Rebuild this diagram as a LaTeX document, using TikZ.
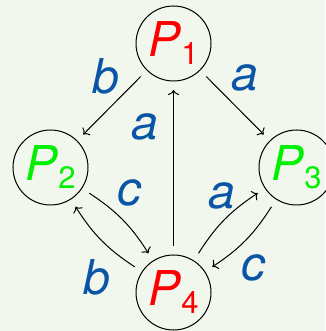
\documentclass[tikz,border=0pt]{standalone}
\usepackage{fontspec}
\setmainfont{TeX Gyre Heros}
\usetikzlibrary{arrows.meta,positioning}
\definecolor{bgtint}{RGB}{242,247,237}
\definecolor{lblblue}{RGB}{10,85,165}
\definecolor{procgreen}{RGB}{0,240,0}
\newcommand{\procname}[1]{\textit{P}\lower8pt\hbox{\fontsize{31}{31}\selectfont #1}}
\tikzset{
  proc/.style={draw=black, line width=1pt, circle, minimum size=75pt, inner sep=0pt,
    outer sep=9pt, font=\fontsize{48}{56}\selectfont},
  lbl/.style={text=lblblue, inner sep=0pt, font=\fontsize{48}{56}\selectfont\itshape},
  arr/.style={-{To[length=5pt,width=11pt]}, line width=1pt}
}
\begin{document}
\begin{tikzpicture}[x=1pt, y=1pt]
  \useasboundingbox (0,0) rectangle (325,331);
  \fill[bgtint] (0,0) rectangle (325,331);

  \node[proc, text=red] (p1) at (173.5,287.5) {\procname{1}};
  \node[proc, text=procgreen] (p2) at (50.5,163.5) {\procname{2}};
  \node[proc, text=procgreen] (p3) at (296.5,163.5) {\procname{3}};
  \node[proc, text=red] (p4) at (173.5,38.5) {\procname{4}};

  \draw[arr] (p1) -- (p2);
  \draw[arr] (p1) -- (p3);
  \draw[arr] (p4) -- (p1);
  \draw[arr] (p2) to[bend left=12] (p4);
  \draw[arr] (p4) to[bend left=12] (p2);
  \draw[arr] (p4) to[bend left=12] (p3);
  \draw[arr] (p3) to[bend left=12] (p4);

  % edge labels
  \node[lbl] (lb12) at (106,255) {b};
  \node[lbl] (la13) at (245,253) {a};
  \node[lbl] (la41) at (145,204) {a};
  \node[lbl] (lc24) at (129,138) {c};
  \node[lbl] (lb42) at (97,54) {b};
  \node[lbl] (la43) at (222,135) {a};
  \node[lbl] (lc34) at (253,63) {c};
\end{tikzpicture}
\end{document}
